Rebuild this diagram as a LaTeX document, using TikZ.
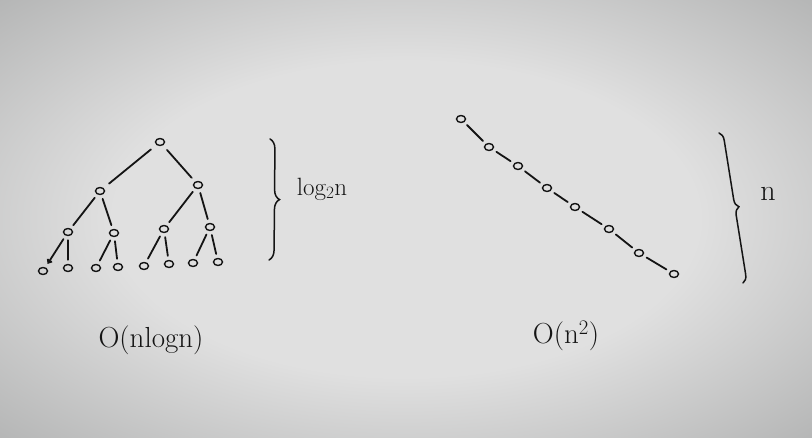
\documentclass[tikz,border=0pt]{standalone}
\usetikzlibrary{shapes.geometric,decorations.pathreplacing,arrows.meta}
\definecolor{paperin}{RGB}{224,224,224}
\definecolor{paperout}{RGB}{170,171,171}
\definecolor{ink}{RGB}{20,20,20}
\pgfdeclareradialshading{paper}{\pgfpoint{0bp}{0bp}}{color(0bp)=(paperin); color(18bp)=(paperin); color(40bp)=(paperout); color(50bp)=(paperout)}
\tikzset{
  vtx/.style={ellipse,draw=ink,line width=1.4pt,minimum width=9pt,minimum height=7pt,inner sep=0pt},
  edge/.style={draw=ink,line width=1.8pt,line cap=round,shorten <=4pt,shorten >=4pt},
  hbrace/.style={draw=ink,line width=1.5pt,line cap=round,decorate,decoration={brace,amplitude=#1}},
  lbl/.style={text=ink,inner sep=0pt}
}
\begin{document}
\begin{tikzpicture}[x=1pt,y=-1pt]
\useasboundingbox (0,0) rectangle (812,438);
\shade[shading=paper] (0,0) rectangle (812,438);
% tree
\node[vtx] (r) at (160,142) {};
\node[vtx] (a) at (100,191) {};
\node[vtx] (b) at (198,185) {};
\node[vtx] (a1) at (68,232) {};
\node[vtx] (a2) at (114,233) {};
\node[vtx] (b1) at (164,229) {};
\node[vtx] (b2) at (210,227) {};
\node[vtx] (l1) at (43,271) {};
\node[vtx] (l2) at (68,268) {};
\node[vtx] (l3) at (96,268) {};
\node[vtx] (l4) at (118,267) {};
\node[vtx] (l5) at (144,266) {};
\node[vtx] (l6) at (169,264) {};
\node[vtx] (l7) at (193,263) {};
\node[vtx] (l8) at (218,262) {};
\draw[edge,shorten <=7pt,shorten >=7pt] (r) -- (a);
\draw[edge,shorten <=6pt,shorten >=5pt] (r) -- (b);
\draw[edge] (a) -- (a1);
\draw[edge] (a) -- (a2);
\draw[edge] (b) -- (b1);
\draw[edge] (b) -- (b2);
\draw[edge,-{Straight Barb[length=3pt,width=5pt]}] (a1) -- (l1);
\draw[edge] (a1) -- (l2);
\draw[edge] (a2) -- (l3);
\draw[edge] (a2) -- (l4);
\draw[edge] (b1) -- (l5);
\draw[edge] (b1) -- (l6);
\draw[edge] (b2) -- (l7);
\draw[edge] (b2) -- (l8);
% left brace
\coordinate (bt1) at (270,139);
\coordinate (bb1) at (269,260);
\draw[hbrace=10pt] (bt1) -- (bb1);
\node[lbl,font=\fontsize{25}{27}\selectfont] (lg) at (322,189) {log$_2$n};
% chain
\node[vtx] (c1) at (461,119) {};
\node[vtx] (c2) at (489,147) {};
\node[vtx] (c3) at (518,166) {};
\node[vtx] (c4) at (547,188) {};
\node[vtx] (c5) at (575,207) {};
\node[vtx] (c6) at (609,229) {};
\node[vtx] (c7) at (639,253) {};
\node[vtx] (c8) at (674,274) {};
\draw[edge] (c1) -- (c2);
\draw[edge] (c2) -- (c3);
\draw[edge] (c3) -- (c4);
\draw[edge] (c4) -- (c5);
\draw[edge] (c5) -- (c6);
\draw[edge] (c6) -- (c7);
\draw[edge] (c7) -- (c8);
% right brace
\coordinate (bt2) at (719,133);
\coordinate (bb2) at (743,283);
\draw[hbrace=8pt] (bt2) -- (bb2);
\node[lbl,font=\fontsize{30}{32}\selectfont] (nn) at (768,194) {n};
% labels
\node[lbl,font=\fontsize{29}{31}\selectfont] (t1) at (151,340) {O(nlogn)};
\node[lbl,font=\fontsize{29}{31}\selectfont] (t2) at (566,336) {O(n$^2$)};
\end{tikzpicture}
\end{document}
